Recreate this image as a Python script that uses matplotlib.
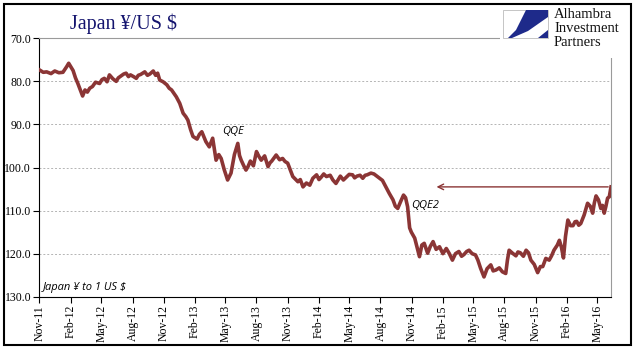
import matplotlib
matplotlib.use("Agg")
import matplotlib.pyplot as plt  # noqa: E402
import matplotlib.dates as mdates  # noqa: E402
import pandas as pd  # noqa: E402
from matplotlib.patches import Rectangle, Polygon  # noqa: E402

# yen per 1 US$
dates = [
    "2011-11-02", "2011-11-12", "2011-11-22", "2011-12-05", "2011-12-16", "2011-12-28",
    "2012-01-09", "2012-01-20", "2012-01-26", "2012-02-08", "2012-02-15", "2012-02-22",
    "2012-03-07", "2012-03-14", "2012-03-21", "2012-03-28", "2012-04-05", "2012-04-14",
    "2012-04-26", "2012-05-03", "2012-05-10", "2012-05-18", "2012-05-25", "2012-06-04",
    "2012-06-14", "2012-06-20", "2012-06-27", "2012-07-06", "2012-07-13", "2012-07-20",
    "2012-07-26", "2012-08-04", "2012-08-12", "2012-08-18", "2012-08-25", "2012-09-06",
    "2012-09-14", "2012-09-21", "2012-10-01", "2012-10-08", "2012-10-14", "2012-10-20",
    "2012-10-30", "2012-11-10", "2012-11-17", "2012-11-24", "2012-12-01", "2012-12-08",
    "2012-12-18", "2012-12-28", "2013-01-05", "2013-01-11", "2013-01-19", "2013-01-26",
    "2013-02-07", "2013-02-14", "2013-02-21", "2013-03-05", "2013-03-15", "2013-03-25",
    "2013-04-04", "2013-04-12", "2013-04-19", "2013-04-28", "2013-05-08", "2013-05-18",
    "2013-05-28", "2013-06-07", "2013-06-12", "2013-06-17", "2013-06-24", "2013-07-01",
    "2013-07-07", "2013-07-14", "2013-07-23", "2013-08-01", "2013-08-08", "2013-08-15",
    "2013-08-25", "2013-09-04", "2013-09-10", "2013-09-15", "2013-09-28", "2013-10-08",
    "2013-10-17", "2013-10-24", "2013-11-01", "2013-11-16", "2013-12-01", "2013-12-08",
    "2013-12-16", "2013-12-26", "2014-01-05", "2014-01-14", "2014-01-25", "2014-02-01",
    "2014-02-07", "2014-02-15", "2014-02-23", "2014-03-06", "2014-03-14", "2014-03-23",
    "2014-04-05", "2014-04-14", "2014-04-22", "2014-05-01", "2014-05-11", "2014-05-17",
    "2014-05-24", "2014-06-02", "2014-06-10", "2014-06-17", "2014-06-23", "2014-07-04",
    "2014-07-13", "2014-07-23", "2014-08-07", "2014-08-17", "2014-08-27", "2014-09-07",
    "2014-09-14", "2014-09-21", "2014-09-29", "2014-10-08", "2014-10-14", "2014-10-20",
    "2014-10-26", "2014-10-31", "2014-11-10", "2014-11-17", "2014-11-24", "2014-12-01",
    "2014-12-08", "2014-12-18", "2014-12-26", "2015-01-03", "2015-01-12", "2015-01-22",
    "2015-02-01", "2015-02-11", "2015-02-20", "2015-03-01", "2015-03-10", "2015-03-20",
    "2015-03-28", "2015-04-04", "2015-04-12", "2015-04-19", "2015-04-28", "2015-05-08",
    "2015-05-15", "2015-05-23", "2015-06-02", "2015-06-11", "2015-06-22", "2015-06-29",
    "2015-07-07", "2015-07-17", "2015-07-26", "2015-08-05", "2015-08-10", "2015-08-15",
    "2015-08-25", "2015-09-04", "2015-09-10", "2015-09-17", "2015-09-26", "2015-10-04",
    "2015-10-11", "2015-10-18", "2015-10-28", "2015-11-07", "2015-11-15", "2015-11-22",
    "2015-12-01", "2015-12-11", "2015-12-18", "2015-12-25", "2016-01-04", "2016-01-10",
    "2016-01-16", "2016-01-22", "2016-01-28", "2016-02-04", "2016-02-12", "2016-02-19",
    "2016-02-25", "2016-03-01", "2016-03-07", "2016-03-13", "2016-03-23", "2016-04-02",
    "2016-04-10", "2016-04-17", "2016-04-22", "2016-04-27", "2016-05-04", "2016-05-11",
    "2016-05-16", "2016-05-21", "2016-05-26", "2016-05-31", "2016-06-05", "2016-06-10",
]
yen = [
    77.4, 77.9, 77.8, 78.2, 77.6, 78.0,
    77.9, 76.6, 75.8, 77.5, 79.2, 80.5,
    83.4, 82.0, 82.5, 81.6, 81.2, 80.2,
    80.5, 79.6, 79.3, 80.1, 78.5, 79.4,
    80.0, 79.2, 78.8, 78.3, 78.1, 78.9,
    78.5, 78.9, 79.3, 78.6, 78.4, 77.8,
    78.6, 78.3, 77.6, 78.6, 78.1, 79.7,
    80.1, 80.8, 81.6, 82.0, 82.8, 83.6,
    85.1, 87.4, 88.2, 89.0, 91.2, 92.8,
    93.4, 92.3, 91.7, 94.0, 95.2, 93.2,
    98.3, 97.0, 97.9, 100.5, 102.9, 101.3,
    97.0, 94.4, 97.2, 98.3, 99.5, 100.6,
    99.8, 98.5, 99.6, 96.3, 97.4, 98.3,
    97.3, 99.8, 98.9, 98.5, 97.1, 98.2,
    97.9, 98.6, 99.0, 102.1, 103.3, 102.8,
    104.5, 103.6, 104.1, 102.5, 101.7, 102.8,
    102.3, 101.5, 102.1, 101.8, 102.9, 103.7,
    102.0, 102.9, 102.3, 101.6, 101.7, 102.4,
    102.0, 101.8, 102.5, 101.8, 101.7, 101.3,
    101.5, 102.1, 103.0, 104.5, 106.0, 107.5,
    109.0, 109.5, 108.0, 106.4, 107.0, 109.1,
    114.0, 115.0, 116.4, 118.5, 120.7, 118.0,
    117.6, 119.9, 118.3, 117.2, 119.0, 118.4,
    120.0, 118.8, 120.0, 121.5, 120.0, 119.5,
    120.6, 120.2, 119.5, 119.2, 120.0, 120.3,
    121.5, 123.4, 125.4, 123.5, 122.6, 124.0,
    123.8, 123.3, 124.2, 124.6, 121.5, 119.2,
    119.9, 120.5, 119.6, 119.8, 120.6, 119.2,
    119.8, 121.5, 122.5, 124.4, 123.0, 123.0,
    121.1, 121.5, 120.5, 119.2, 118.0, 116.9,
    118.5, 121.0, 116.0, 112.2, 113.5, 113.5,
    112.6, 112.5, 113.4, 113.0, 111.0, 108.3,
    109.0, 110.6, 108.2, 106.6, 107.5, 109.5,
    108.8, 110.6, 109.0, 107.1, 106.8, 104.5,
]
ytick_values = [70, 80, 90, 100, 110, 120, 130]
tick_dates = pd.date_range("2011-11-01", "2016-05-01", freq="3MS")

line_color = "#8B3535"
serif = "Liberation Serif"
sans = ["Open Sans", "DejaVu Sans"]

x = pd.to_datetime(dates)

fig = plt.figure(figsize=(6.41, 3.61), dpi=100)
ax = fig.add_axes([0.0616, 0.178, 0.8916, 0.716])

ax.plot(x, yen, color=line_color, linewidth=2.6, solid_joinstyle="round", zorder=3)

ax.set_ylim(130, 70)
ax.set_yticks(ytick_values)
ax.set_yticklabels([f"{v:.1f}" for v in ytick_values], fontfamily=serif, fontsize=8.5)
ax.set_xlim(pd.Timestamp("2011-11-01"), pd.Timestamp("2016-06-10"))
ax.set_xticks(tick_dates)
ax.xaxis.set_major_formatter(mdates.DateFormatter("%b-%y"))
for lab in ax.get_xticklabels():
    lab.set_rotation(90)
    lab.set_fontfamily(serif)
    lab.set_fontsize(8.5)

ax.grid(axis="y", color="#B4B4B4", linestyle=(0, (2, 2)), linewidth=0.7)
ax.spines["top"].set_color("#9A9A9A")
ax.spines["right"].set_color("#9A9A9A")
ax.spines["left"].set_color("black")
ax.spines["bottom"].set_color("black")
ax.tick_params(axis="both", length=4, width=0.8, color="black", pad=2)

# arrow back to where the yen stood before QQE2
ax.annotate("", xy=(pd.Timestamp("2015-01-05"), 104.5), xytext=(x[-1], 104.5),
            arrowprops=dict(arrowstyle="->", color=line_color, lw=1.0), zorder=4)

ax.text(pd.Timestamp("2013-04-23"), 91.7, "QQE", fontfamily=sans, fontstyle="italic",
        fontsize=8, va="center", ha="left")
ax.text(pd.Timestamp("2014-11-01"), 108.9, "QQE2", fontfamily=sans, fontstyle="italic",
        fontsize=8, va="center", ha="left")
ax.text(0.005, 0.035, "Japan ¥ to 1 US $", transform=ax.transAxes, fontfamily=sans,
        fontstyle="italic", fontsize=8, va="center", ha="left")

fig.text(70 / 641, 1 - 24 / 361, "Japan ¥/US $", fontfamily=serif, fontsize=14.5,
         color="#14146E", va="center", ha="left")

# logo
logo = fig.add_axes([500 / 641, 1 - 58 / 361, 128 / 641, 54 / 361])
logo.set_xlim(0, 128)
logo.set_ylim(54, 0)
logo.set_facecolor("white")
logo.axis("off")
logo.add_patch(Rectangle((0, 0), 128, 54, facecolor="white", edgecolor="none"))
logo.add_patch(Rectangle((3, 6), 45, 28, facecolor="white", edgecolor="#BBBBBB", lw=0.6))
logo.add_patch(Polygon([(26, 6), (48, 6), (48, 13), (38, 20), (28, 27), (12, 34),
                        (8, 34), (16, 26), (21, 16)],
                       closed=True, facecolor="#1E2A8A", edgecolor="none"))
logo.add_patch(Polygon([(38, 34), (48, 34), (48, 26)], closed=True,
                       facecolor="#1E2A8A", edgecolor="none"))
for i, word in enumerate(["Alhambra", "Investment", "Partners"]):
    logo.text(54, 11 + i * 13.5, word, fontfamily=serif, fontsize=10.5, va="center",
              ha="left", color="#111111")

fig.add_artist(Rectangle((4 / 641, 1 - 345 / 361), 627 / 641, 341 / 361,
                         transform=fig.transFigure, fill=False, edgecolor="black", lw=1.5))

fig.savefig("out.png", dpi=100)
